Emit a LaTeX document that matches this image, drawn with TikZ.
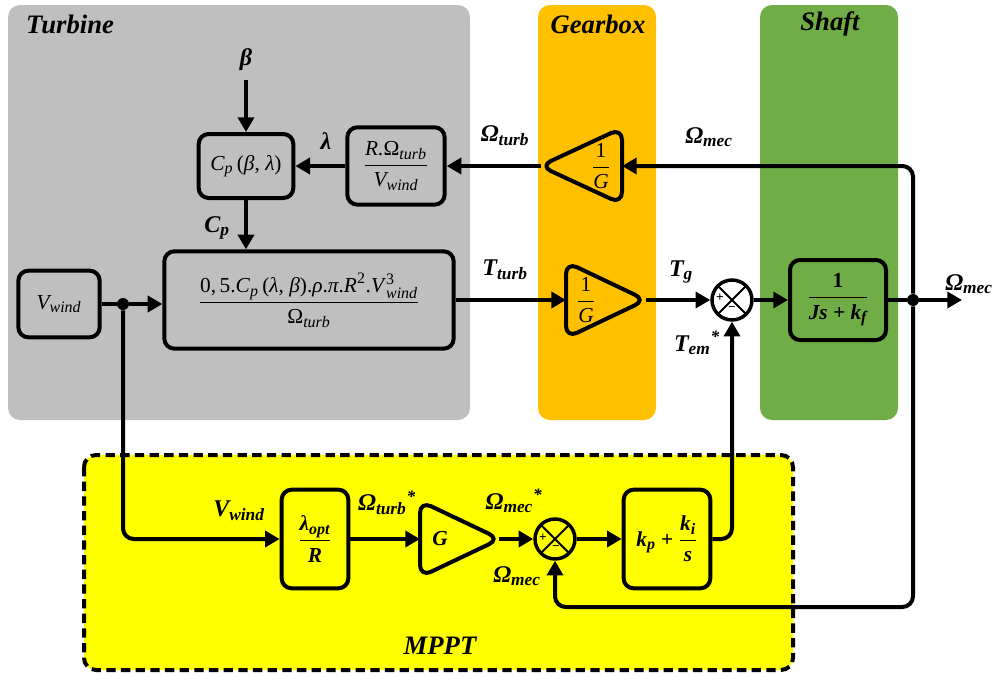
\documentclass[tikz,border=0pt]{standalone}
\usepackage{fontspec}
\setmainfont{Liberation Serif}
\usetikzlibrary{arrows.meta,calc}

\definecolor{turbgray}{HTML}{BFBFBF}
\definecolor{gearorange}{HTML}{FFC000}
\definecolor{shaftgreen}{HTML}{70AD47}
\definecolor{mpptyellow}{HTML}{FFFF00}

% small text used for sub- and superscripts
\newcommand\scr[1]{\mbox{\fontsize{12}{12}\selectfont #1}}
\newcommand\bscr[1]{\mbox{\fontsize{13}{13}\selectfont #1}}

\begin{document}
\begin{tikzpicture}[x=0.75pt,y=-0.75pt,
  region/.style={rounded corners=9pt},
  title/.style={font=\fontsize{20}{22}\selectfont\bfseries\itshape},
  sig/.style={font=\fontsize{18}{20}\selectfont\bfseries\itshape, inner sep=1pt},
  blk/.style={draw, line width=3pt, rounded corners=7.5pt, inner sep=2pt,
    font=\fontsize{16}{18}\selectfont},
  gainedge/.style={line width=3pt, rounded corners=9pt, line join=round},
  gaintxt/.style={inner sep=0pt, font=\fontsize{16}{18}\selectfont},
  sumj/.style={circle, draw, line width=2.6pt, minimum size=30pt, inner sep=0pt,
    path picture={\draw[line width=1.5pt]
      (path picture bounding box.north west) -- (path picture bounding box.south east)
      (path picture bounding box.north east) -- (path picture bounding box.south west);}},
  sgn/.style={font=\fontsize{10}{10}\selectfont\bfseries, inner sep=0pt},
  wire/.style={line width=3pt},
  arr/.style={line width=3pt, -{Triangle[length=11pt,width=12pt]}},
  dot/.style={circle, fill, inner sep=0pt, minimum size=9pt}
]
\useasboundingbox (0,0) rectangle (997,675);

% ---- coloured regions ----
\fill[turbgray, region] (8,5) rectangle (470,420);
\fill[gearorange, region] (538,5) rectangle (656,420);
\fill[shaftgreen, region] (760,5) rectangle (898,420);
\draw[fill=mpptyellow, line width=3pt, dash pattern=on 7pt off 4pt, rounded corners=9pt]
  (84,455) rectangle (793,670);

\node[title] (tTurb) at (70,24) {Turbine};
\node[title] (tGear) at (598,24) {Gearbox};
\node[title] (tShaft) at (830,24) {Shaft};
\node[title] (tMppt) at (440,646) {MPPT};

% ---- turbine blocks ----
\node[blk, minimum width=71pt, minimum height=48pt] (cp) at (246,166)
  {$\mbox{\itshape C}_{\scr{\itshape p}}\mbox{\,(\textit{β}, \textit{λ})}$};
\node[blk, minimum width=73pt, minimum height=58pt] (rb) at (396,166)
  {$\displaystyle\frac{\mbox{\itshape R.}\mbox{Ω}_{\scr{\itshape turb}}}{\mbox{\itshape V}_{\scr{\itshape wind}}}$};
\node[blk, minimum width=217pt, minimum height=73pt] (big) at (309,300)
  {$\displaystyle\frac{\mbox{0,\,5.\textit{C}}_{\scr{\itshape p}}\mbox{\,(\textit{λ}, \textit{β}).\textit{ρ}.\textit{π}.\textit{R}}^{\scr{2}}\mbox{.\textit{V}}^{\scr{3}}_{\scr{\itshape wind}}}{\mbox{Ω}_{\scr{\itshape turb}}}$};
\node[blk, minimum width=61pt, minimum height=50pt] (vw) at (59,304)
  {$\mbox{\itshape V}_{\scr{\itshape wind}}$};

% ---- gearbox gains (triangles drawn as rounded outlines) ----
\draw[gainedge] (622,128) -- (622,204) -- (540,166) -- cycle;
\node[gaintxt] (gu) at (601,166) {$\displaystyle\frac{\mbox{1}}{\mbox{\itshape G}}$};
\coordinate (guIn) at (622,166);
\coordinate (guOut) at (541,166);

\draw[gainedge] (566,262) -- (646,300) -- (566,338) -- cycle;
\node[gaintxt] (gl) at (586,300) {$\displaystyle\frac{\mbox{1}}{\mbox{\itshape G}}$};
\coordinate (glIn) at (566,300);
\coordinate (glOut) at (646,300);

% ---- shaft ----
\node[sumj, fill=white] (s1) at (732,300) {};
\node[sgn] (s1p) at (720,298) {+};
\node[sgn] (s1m) at (732,309) {\textminus};
\node[blk, minimum width=72pt, minimum height=60pt, font=\fontsize{16}{18}\selectfont\bfseries] (sh) at (838,300)
  {$\displaystyle\frac{\mbox{1}}{\mbox{\itshape Js + k}_{\scr{\itshape f}}}$};

% ---- MPPT ----
\node[blk, minimum width=50pt, minimum height=74pt, font=\fontsize{16}{18}\selectfont\bfseries\itshape] (lam) at (315,539)
  {$\displaystyle\frac{\mbox{λ}_{\scr{opt}}}{\mbox{R}}$};
\draw[gainedge] (420,501) -- (500,539) -- (420,577) -- cycle;
\node[gaintxt, font=\fontsize{16}{18}\selectfont\bfseries\itshape] (gm) at (440,539) {G};
\coordinate (gmIn) at (420,539);
\coordinate (gmOut) at (499,539);
\node[sumj] (s2) at (555,539) {};
\node[sgn] (s2p) at (543,538) {+};
\node[sgn] (s2m) at (556,548) {\textminus};
\node[blk, minimum width=65pt, minimum height=74pt, font=\fontsize{16}{18}\selectfont\bfseries\itshape] (pi) at (667,539)
  {$\mbox{k}_{\scr{p}}\mbox{ \upshape+ }\displaystyle\frac{\mbox{k}_{\scr{i}}}{\mbox{s}}$};

% ---- junctions and free ends ----
\node[dot] (jv) at (123,304) {};
\node[dot] (jm) at (913,300) {};
\coordinate (betaIn) at (246,80);
\coordinate (omOut) at (962,300);
\coordinate (fbDown) at (913,607);

% ---- signal labels ----
\node[sig] (lBeta) at (246,60) {β};
\node[sig] (lLam) at (326,141) {λ};
\node[sig] (lCp) at (217,228) {$\mbox{C}_{\bscr{p}}$};
\node[sig] (lOt) at (505,136) {$\mbox{Ω}_{\bscr{turb}}$};
\node[sig] (lOm1) at (709,137) {$\mbox{Ω}_{\bscr{mec}}$};
\node[sig] (lTt) at (505,270) {$\mbox{T}_{\bscr{turb}}$};
\node[sig] (lTg) at (681,272) {$\mbox{T}_{\bscr{g}}$};
\node[sig] (lTem) at (697,343) {$\mbox{T}_{\bscr{em}}{}^{\bscr{*}}$};
\node[sig] (lOm2) at (969,284) {$\mbox{Ω}_{\bscr{mec}}$};
\node[sig] (lVw) at (239,511) {$\mbox{V}_{\bscr{wind}}$};
\node[sig] (lOts) at (387,503) {$\mbox{Ω}_{\bscr{turb}}{}^{\bscr{*}}$};
\node[sig] (lOms) at (514,501) {$\mbox{Ω}_{\bscr{mec}}{}^{\bscr{*}}$};
\node[sig] (lOm3) at (517,576) {$\mbox{Ω}_{\bscr{mec}}$};

% ---- connectors ----
\draw[arr] (betaIn) -- (cp.north);
\draw[arr] (rb.west) -- (cp.east);
\draw[arr] (cp.south) -- (cp.south |- big.north);
\draw[wire] (vw.east) -- (jv);
\draw[arr] (jv) -- (jv -| big.west);
\draw[arr] (big.east |- glIn) -- (glIn);
\draw[arr] (glOut) -- (s1.west);
\draw[arr] (s1.east) -- (sh.west);
\draw[wire] (sh.east) -- (jm);
\draw[arr] (jm) -- (omOut);
\draw[arr, rounded corners=8pt] (jm) |- (guIn);
\draw[arr] (guOut) -- (rb.east);
\draw[arr, rounded corners=8pt] (jm) -- (fbDown) -| (s2.south);
\draw[arr, rounded corners=8pt] (jv) |- (lam.west);
\draw[arr] (lam.east) -- (gmIn);
\draw[arr] (gmOut) -- (s2.west);
\draw[arr] (s2.east) -- (pi.west);
\draw[arr, rounded corners=8pt] (pi.east) -| (s1.south);
\end{tikzpicture}
\end{document}
